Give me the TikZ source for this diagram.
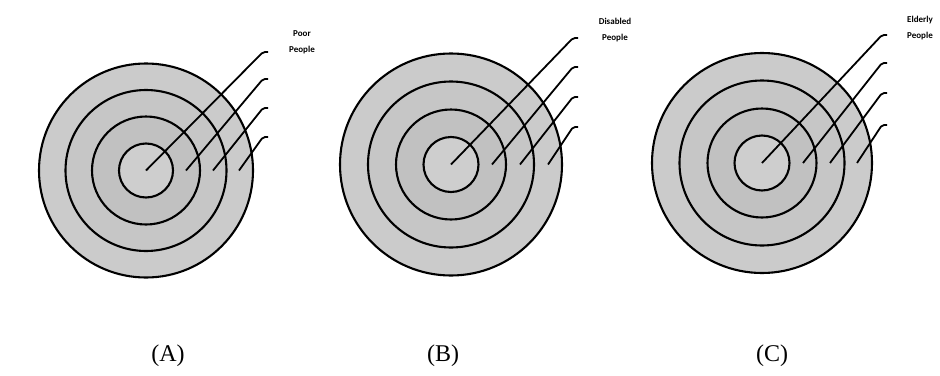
\documentclass[tikz,border=0pt]{standalone}
\usepackage{fontspec}
\setmainfont{Liberation Serif}
\newfontfamily\lblfont{Carlito}
\definecolor{ringA}{HTML}{CBCBCB}
\definecolor{ringB}{HTML}{C6C6C6}
\definecolor{ringC}{HTML}{C1C1C1}
\definecolor{ringD}{HTML}{CECECE}
\tikzset{
  ring/.style={draw=black, line width=2.1pt},
  spoke/.style={draw=black, line width=1.8pt, rounded corners=2pt},
  tag/.style={font=\lblfont\bfseries\fontsize{9}{15.5}\selectfont, align=center, inner sep=0pt},
  caption/.style={font=\fontsize{24}{26}\selectfont, inner sep=0pt},
}
\begin{document}
\begin{tikzpicture}[x=1pt,y=-1pt]
\useasboundingbox (0,0) rectangle (940,375);
\fill[white] (0,0) rectangle (940,375);

% ---------- (A) ----------
\coordinate (A0) at (146,170.5);
\foreach \r/\c in {107/ringA,80.5/ringB,54/ringC,27/ringD}
  {\filldraw[ring, fill=\c] (A0) circle (\r pt);}
\foreach \i/\sx/\ex/\ey in {1/146/263/52, 2/186/263/79, 3/213/263/108, 4/239/263/137}
  {\coordinate (A\i s) at (\sx,170.5);
   \coordinate (A\i e) at (\ex,\ey);
   \draw[spoke] (A\i s) -- (A\i e) -- ++(5,0);}
\node[tag] (Alab) at (302,42.5) {Poor\\People};
\node[caption] (Acap) at (168,356) {(A)};

% ---------- (B) ----------
\coordinate (B0) at (451,164.5);
\foreach \r/\c in {111/ringA,83/ringB,55/ringC,27.5/ringD}
  {\filldraw[ring, fill=\c] (B0) circle (\r pt);}
\foreach \i/\sx/\ex/\ey in {1/451/573/38, 2/492/573/67, 3/520/573/97, 4/548/573/127}
  {\coordinate (B\i s) at (\sx,164.5);
   \coordinate (B\i e) at (\ex,\ey);
   \draw[spoke] (B\i s) -- (B\i e) -- ++(5,0);}
\node[tag] (Blab) at (615,30) {Disabled\\People};
\node[caption] (Bcap) at (443,356) {(B)};

% ---------- (C) ----------
\coordinate (C0) at (762,163);
\foreach \r/\c in {110/ringA,82.5/ringB,54.5/ringC,27.5/ringD}
  {\filldraw[ring, fill=\c] (C0) circle (\r pt);}
\foreach \i/\sx/\ex/\ey in {1/762/882/35, 2/803/882/63, 3/830/882/93, 4/857/882/125}
  {\coordinate (C\i s) at (\sx,163);
   \coordinate (C\i e) at (\ex,\ey);
   \draw[spoke] (C\i s) -- (C\i e) -- ++(5,0);}
\node[tag] (Clab) at (920,28) {Elderly\\People};
\node[caption] (Ccap) at (772,356) {(C)};
\end{tikzpicture}
\end{document}
